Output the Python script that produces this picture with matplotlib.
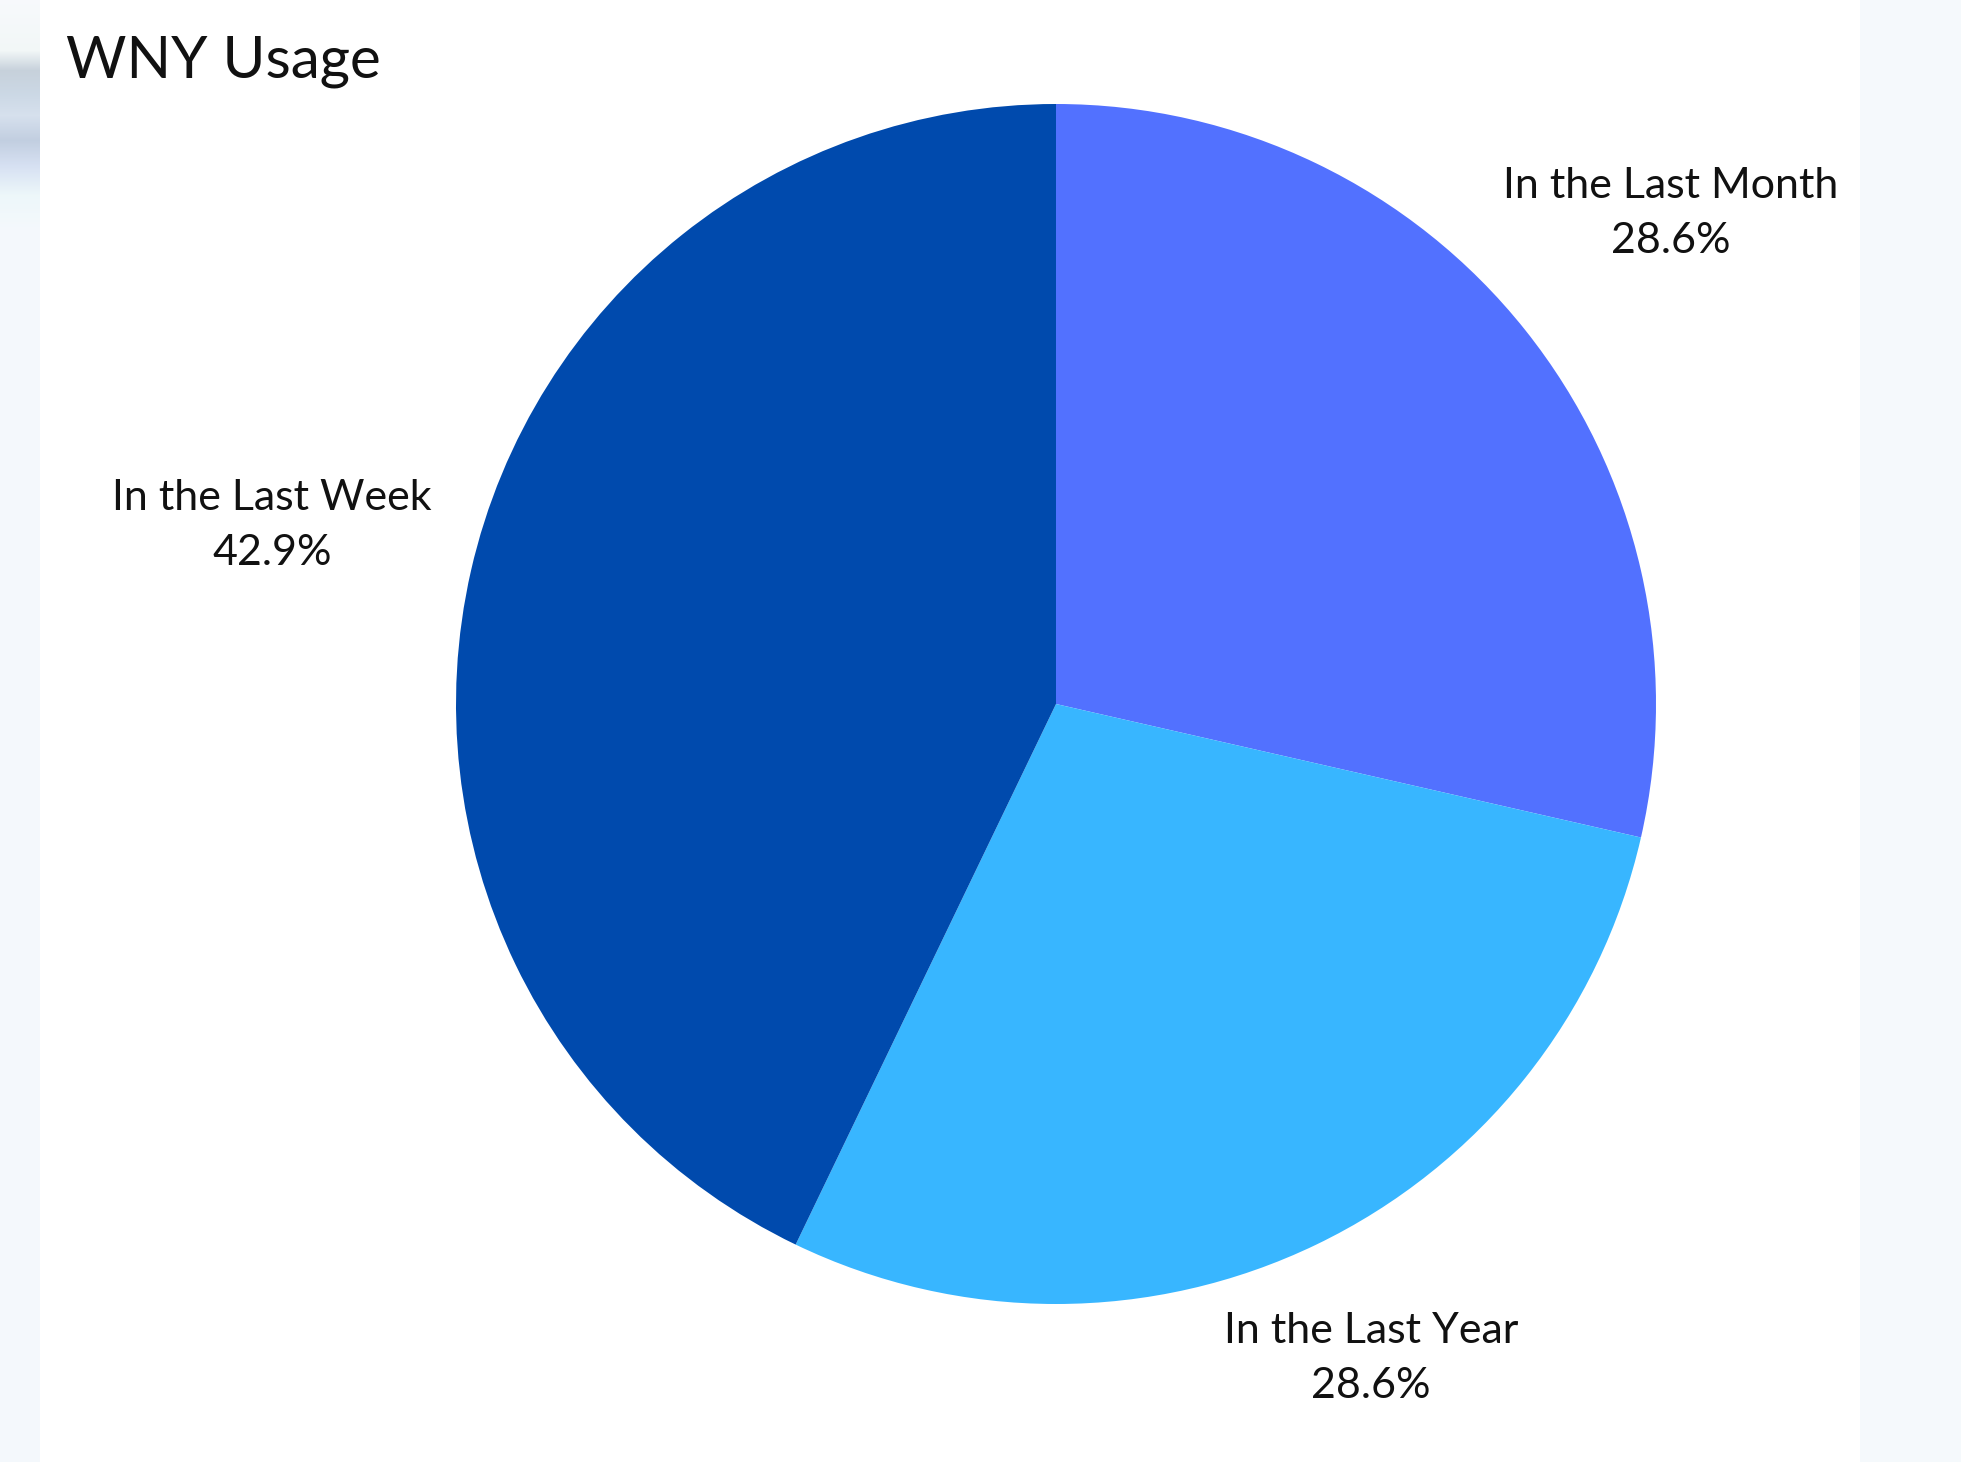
import matplotlib.pyplot as plt
import matplotlib.patches as patches
import numpy as np

# chart data
categories = ['In the Last Month', 'In the Last Year', 'In the Last Week']
shares = [28.6, 28.6, 42.9]
colors = ['#5271ff', '#38b6ff', '#004aad']
title = 'WNY Usage'

W, H = 1961, 1462
plt.rcParams['font.family'] = ['Lato', 'DejaVu Sans']

fig = plt.figure(figsize=(W / 100, H / 100), dpi=100)
ax = fig.add_axes([0, 0, 1, 1])

# faded background outside the white slide (soft gray band top-left)
fig.patch.set_facecolor('#f5f9fc')
stops_y = [0, 50, 70, 95, 115, 140, 165, 195, 230, H]
stops_c = np.array([(0.97, 0.98, 0.99), (0.95, 0.97, 0.97), (0.78, 0.82, 0.86),
                    (0.80, 0.85, 0.90), (0.84, 0.88, 0.93), (0.76, 0.81, 0.88),
                    (0.84, 0.88, 0.95), (0.93, 0.97, 0.98), (0.96, 0.975, 0.99),
                    (0.96, 0.975, 0.99)])
rows = np.arange(H)
strip = np.stack([np.interp(rows, stops_y, stops_c[:, k]) for k in range(3)], axis=-1)
strip = np.repeat(strip[:, None, :], 2, axis=1)
ax.imshow(strip, extent=(0, 40, 0, H), aspect='auto', interpolation='bilinear', zorder=0)
ax.add_patch(patches.Rectangle((40, 0), 1820, H, facecolor='white', edgecolor='none', zorder=1))

cx, cy, r = 1056, H - 704, 600
wedges, _ = ax.pie(shares, colors=colors, startangle=90, counterclock=False,
                   center=(cx, cy), radius=r, frame=True,
                   wedgeprops=dict(linewidth=0, zorder=2))
ax.set_xlim(0, W)
ax.set_ylim(0, H)
ax.set_aspect('auto')
ax.axis('off')

# labels outside each wedge
dists = [1.31, 1.21, 1.34]
for w, name, val, d in zip(wedges, categories, shares, dists):
    ang = np.deg2rad((w.theta1 + w.theta2) / 2)
    x = cx + d * r * np.cos(ang)
    y = cy + d * r * np.sin(ang)
    ax.text(x, y, f'{name}\n{val:.1f}%', ha='center', va='center',
            fontsize=31, color='#111111', linespacing=1.55, zorder=3)

ax.text(66, H - 62, title, ha='left', va='center', fontsize=42, color='#111111', zorder=3)

fig.savefig('out.png', dpi=100, facecolor=fig.get_facecolor())
